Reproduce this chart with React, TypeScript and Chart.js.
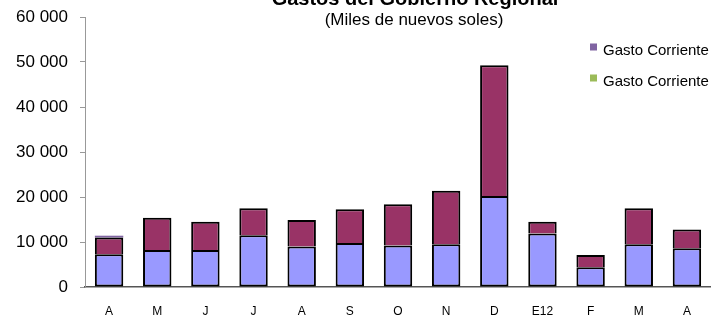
import React, { useEffect, useRef } from "react";
import { Chart, registerables } from "chart.js";

Chart.register(...registerables);

const categories = ["A", "M", "J", "J", "A", "S", "O", "N", "D", "E12", "F", "M", "A"];
const gastoBase = [7300, 8200, 8200, 11500, 9000, 9800, 9200, 9500, 20200, 11900, 4400, 9500, 8600];
const gastoTop = [3700, 7200, 6300, 6000, 5900, 7500, 9200, 11900, 29100, 2600, 2700, 8000, 4200];
const gastoExtra = [400, 0, 0, 0, 0, 0, 0, 0, 0, 0, 0, 0, 0];
const yTicks = [0, 10000, 20000, 30000, 40000, 50000, 60000];
const legendLabels = ["Gasto Corriente", "Gasto Corriente"];
const legendColors = ["#8064A2", "#9BBB59"];
const titleText = "Gastos del Gobierno Regional";
const subtitleText = "(Miles de nuevos soles)";

const FONT = "'Liberation Sans', Arial, sans-serif";

const fmt = (v: number) => {
  const s = String(Math.round(v));
  return s.replace(/\B(?=(\d{3})+(?!\d))/g, " ");
};

const overlayPlugin = {
  id: "overlay",
  afterDraw(chart: any) {
    const ctx = chart.ctx;
    ctx.save();
    ctx.fillStyle = "#000";
    ctx.textAlign = "center";
    ctx.textBaseline = "alphabetic";
    ctx.font = `bold 20px ${FONT}`;
    ctx.fillText(titleText, 415, 5);
    ctx.font = `17px ${FONT}`;
    ctx.fillText(subtitleText, 414, 25);
    ctx.textAlign = "left";
    ctx.font = `15px ${FONT}`;
    const ys = [43.5, 74.5];
    legendLabels.forEach((lab, i) => {
      ctx.fillStyle = legendColors[i];
      ctx.fillRect(590, ys[i], 7, 7);
      ctx.fillStyle = "#000";
      ctx.fillText(lab, 603, ys[i] + 11);
    });
    ctx.restore();
  },
};

export default function App() {
  const ref = useRef<HTMLCanvasElement | null>(null);
  useEffect(() => {
    document.body.style.margin = "0";
    const canvas = ref.current!;
    const chart = new Chart(canvas, {
      type: "bar",
      data: {
        labels: categories,
        datasets: [
          {
            label: "Base",
            data: gastoBase,
            backgroundColor: "#9999FF",
            borderColor: "#000",
            borderWidth: 2,
            borderSkipped: false,
            barPercentage: 0.59,
            categoryPercentage: 1,
          },
          {
            label: "Top",
            data: gastoTop,
            backgroundColor: "#993366",
            borderColor: "#000",
            borderWidth: 2,
            borderSkipped: "bottom",
            barPercentage: 0.59,
            categoryPercentage: 1,
          },
          {
            label: "Extra",
            data: gastoExtra,
            backgroundColor: "#8064A2",
            borderWidth: 0,
            barPercentage: 0.59,
            categoryPercentage: 1,
          },
        ],
      },
      options: {
        responsive: false,
        animation: false,
        devicePixelRatio: 1,
        layout: { padding: { top: 17, left: 0, right: 0, bottom: 0 } },
        plugins: {
          legend: { display: false },
          title: { display: false },
          tooltip: { enabled: false },
        },
        scales: {
          x: {
            stacked: true,
            grid: { display: false, drawTicks: false },
            border: { display: true, color: "#555", width: 1.5 },
            ticks: {
              color: "#000",
              font: { family: FONT, size: 12 },
              padding: 17,
              maxRotation: 0,
              autoSkip: false,
            },
            afterFit(scale: any) {
              scale.height = 31;
            },
          },
          y: {
            stacked: true,
            min: 0,
            max: 60000,
            afterBuildTicks(scale: any) {
              scale.ticks = yTicks.map((v) => ({ value: v }));
            },
            grid: {
              drawOnChartArea: false,
              drawTicks: true,
              tickLength: 5,
              color: "#999",
            },
            border: { display: true, color: "#999", width: 1 },
            ticks: {
              color: "#000",
              font: { family: FONT, size: 17 },
              padding: 12,
              callback: (v: any) => fmt(Number(v)),
            },
            afterFit(scale: any) {
              scale.width = 85;
              scale.paddingTop = 0;
              scale.paddingBottom = 0;
            },
          },
        },
      },
      plugins: [overlayPlugin],
    });
    return () => chart.destroy();
  }, []);
  return (
    <div style={{ position: "absolute", left: 0, top: 0, width: 711, height: 318 }}>
      <canvas ref={ref} width={711} height={318} style={{ width: 711, height: 318, display: "block" }} />
    </div>
  );
}
